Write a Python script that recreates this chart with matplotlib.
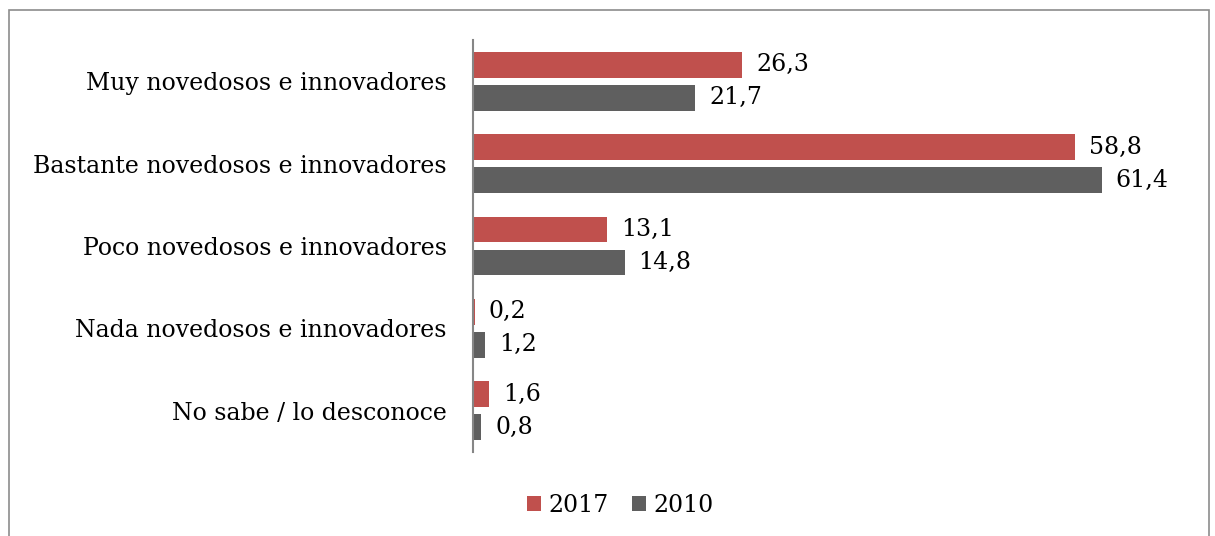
import matplotlib.pyplot as plt
import numpy as np
from matplotlib.patches import Rectangle

plt.rcParams.update({
    'font.family': 'DejaVu Serif',
    'font.size': 17,
})

# --- Data ---
categories = [
    'Muy novedosos e innovadores',
    'Bastante novedosos e innovadores',
    'Poco novedosos e innovadores',
    'Nada novedosos e innovadores',
    'No sabe / lo desconoce',
]
values_2017 = [26.3, 58.8, 13.1, 0.2, 1.6]
values_2010 = [21.7, 61.4, 14.8, 1.2, 0.8]
series_labels = ['2017', '2010']

COLOR_2017 = '#C0504D'
COLOR_2010 = '#5F5F5F'

W, H = 1215, 536
fig = plt.figure(figsize=(W / 100, H / 100), dpi=100)

# outer chart border
fig.patches.append(Rectangle((9 / W, -0.05), 1200 / W, 1 - 10 / H + 0.05,
                             transform=fig.transFigure, fill=False,
                             edgecolor='#8c8c8c', linewidth=1.2))

ax = fig.add_axes([473 / W, 1 - 452 / H, (1190 - 473) / W, (452 - 40) / H])

y = np.arange(len(categories))
h = 0.315
off = 0.2
b17 = ax.barh(y - off, values_2017, h, color=COLOR_2017, label=series_labels[0])
b10 = ax.barh(y + off, values_2010, h, color=COLOR_2010, label=series_labels[1])

for bars, vals in [(b17, values_2017), (b10, values_2010)]:
    for rect, v in zip(bars, vals):
        ax.annotate(f'{v:.1f}'.replace('.', ','),
                    xy=(rect.get_width(), rect.get_y() + rect.get_height() / 2),
                    xytext=(10, 0), textcoords='offset points',
                    ha='left', va='center', fontsize=17)

ax.set_xlim(0, 70)
ax.set_ylim(len(categories) - 0.5, -0.5)
ax.set_yticks(y)
ax.set_yticklabels(categories)
ax.tick_params(axis='y', length=0, pad=19)
ax.set_xticks([])
for side in ['top', 'right', 'bottom']:
    ax.spines[side].set_visible(False)
ax.spines['left'].set_color('#868686')
ax.spines['left'].set_linewidth(1.5)

fig.legend(loc='center', bbox_to_anchor=(620 / W, 1 - 505 / H), ncol=2,
           frameon=False, handlelength=0.6, handleheight=0.6,
           handletextpad=0.3, columnspacing=1.0, fontsize=17)

plt.savefig('out.png', dpi=100)
plt.close()
